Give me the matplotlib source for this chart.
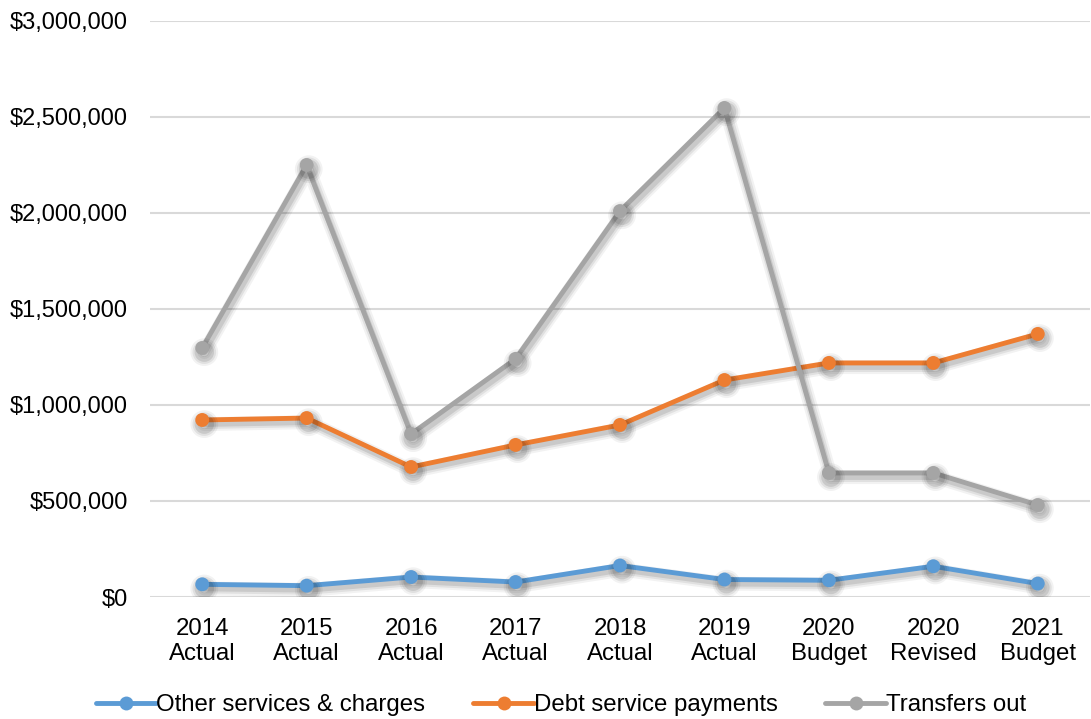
import matplotlib
matplotlib.use("Agg")
import matplotlib.pyplot as plt
import matplotlib.patheffects as pe
from matplotlib.ticker import FuncFormatter, MultipleLocator

plt.rcParams['font.family'] = ['Liberation Sans', 'DejaVu Sans']

categories = ["2014\nActual", "2015\nActual", "2016\nActual", "2017\nActual",
              "2018\nActual", "2019\nActual", "2020\nBudget", "2020\nRevised",
              "2021\nBudget"]

other_services = [66000, 59000, 104000, 78000, 164000, 91000, 87000, 160000, 70000]
debt_service = [922000, 932000, 677000, 792000, 896000, 1130000, 1219000, 1219000, 1370000]
transfers_out = [1297000, 2250000, 849000, 1240000, 2010000, 2547000, 646000, 646000, 479000]

series = [
    ("Other services & charges", other_services, "#5B9BD5"),
    ("Debt service payments", debt_service, "#ED7D31"),
    ("Transfers out", transfers_out, "#A5A5A5"),
]

fig = plt.figure(figsize=(10.91, 7.19), dpi=100)
ax = fig.add_axes([150 / 1091, 1 - 597 / 719, 940 / 1091, 576 / 719])

# soft drop shadow under each line
shadow = [
    pe.SimpleLineShadow(offset=(1.5, -3), shadow_color="black", alpha=0.05, linewidth=10),
    pe.SimpleLineShadow(offset=(1.5, -3), shadow_color="black", alpha=0.07, linewidth=7),
    pe.SimpleLineShadow(offset=(1.5, -3), shadow_color="black", alpha=0.10, linewidth=4),
    pe.Normal(),
]

x = list(range(len(categories)))
handles = []
for label, values, color in series:
    line, = ax.plot(x, values, color=color, linewidth=3.5, marker="o",
                    markersize=10, markeredgewidth=0, label=label,
                    solid_capstyle="round", zorder=3)
    line.set_path_effects(shadow)
    handles.append(line)

ax.set_xlim(-0.5, len(categories) - 0.5)
ax.set_ylim(0, 3000000)
ax.yaxis.set_major_locator(MultipleLocator(500000))
ax.yaxis.set_major_formatter(FuncFormatter(lambda v, p: f"${v:,.0f}"))
ax.set_xticks(x)
ax.set_xticklabels(categories, linespacing=1.2)

ax.grid(axis="y", color="#D9D9D9", linewidth=1.5, zorder=0)
ax.set_axisbelow(True)
for s in ax.spines.values():
    s.set_visible(False)
ax.tick_params(axis="both", length=0, colors="black")
ax.tick_params(axis="y", labelsize=17, pad=16)
ax.tick_params(axis="x", labelsize=17.3, pad=15)

leg = fig.legend(handles=handles, loc="center",
                 bbox_to_anchor=(561 / 1091, 1 - 705 / 719), ncol=3,
                 frameon=False, fontsize=17.3, handlelength=2.5,
                 handletextpad=0.0, columnspacing=2.0)
for h in leg.legend_handles:
    h.set_path_effects([])

fig.savefig("out.png", dpi=100, facecolor="white")
